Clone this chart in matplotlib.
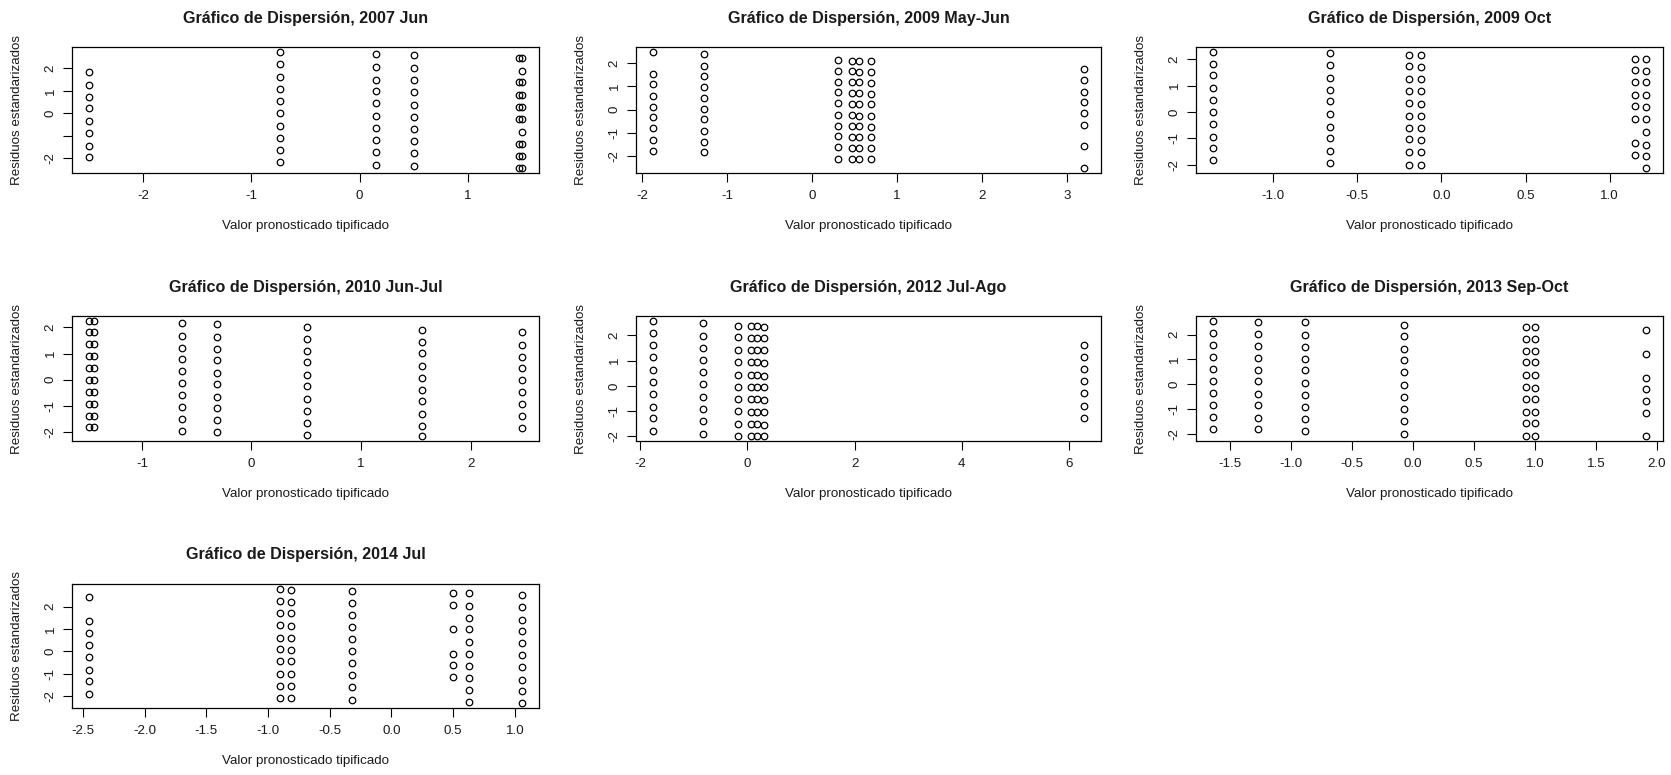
import matplotlib
matplotlib.use("Agg")
import matplotlib.pyplot as plt

plt.rcParams['font.family'] = ['Liberation Sans', 'DejaVu Sans']
plt.rcParams['axes.unicode_minus'] = False

# ---------------- data ----------------
titles = ["Gráfico de Dispersión, 2007 Jun",
          "Gráfico de Dispersión, 2009 May-Jun",
          "Gráfico de Dispersión, 2009 Oct",
          "Gráfico de Dispersión, 2010 Jun-Jul",
          "Gráfico de Dispersión, 2012 Jul-Ago",
          "Gráfico de Dispersión, 2013 Sep-Oct",
          "Gráfico de Dispersión, 2014 Jul"]

x_label = "Valor pronosticado tipificado"
y_label = "Residuos estandarizados"

# 2007 Jun
jun2007_x = [-2.50, -0.74, 0.15, 0.50, 1.475, 1.50]
jun2007_y = [
    [1.83, 1.28, 0.72, 0.23, -0.32, -0.89, -1.43, -1.94],
    [2.74, 2.18, 1.62, 1.10, 0.57, 0.00, -0.56, -1.10, -1.62, -2.18],
    [2.63, 2.06, 1.50, 1.01, 0.45, -0.12, -0.66, -1.17, -1.73, -2.29],
    [2.57, 2.00, 1.49, 0.95, 0.39, -0.17, -0.68, -1.22, -1.77, -2.33],
    [2.45, 1.38, 0.81, 0.27, -0.27, -1.34, -1.89, -2.44],
    [2.45, 1.89, 1.38, 0.81, 0.27, -0.27, -0.84, -1.34, -1.89, -2.44],
]

# 2009 May-Jun
mayjun2009_x = [-1.87, -1.275, 0.30, 0.47, 0.55, 0.70, 3.20]
mayjun2009_y = [
    [2.48, 1.52, 1.09, 0.58, 0.10, -0.32, -0.81, -1.29, -1.77],
    [2.38, 1.87, 1.43, 0.96, 0.48, 0.03, -0.42, -0.90, -1.39, -1.84],
    [2.14, 1.67, 1.19, 0.75, 0.28, -0.22, -0.70, -1.14, -1.62, -2.10],
    [2.10, 1.67, 1.19, 0.71, 0.25, -0.22, -0.70, -1.19, -1.65, -2.10],
    [2.10, 1.61, 1.19, 0.71, 0.22, -0.28, -0.72, -1.19, -1.65, -2.10],
    [2.10, 1.62, 1.13, 0.67, 0.22, -0.29, -0.75, -1.19, -1.65, -2.14],
    [1.72, 1.25, 0.77, 0.32, -0.16, -0.65, -1.57, -2.52],
]

# 2009 Oct
oct2009_x = [-1.356, -0.663, -0.193, -0.119, 1.148, 1.214]
oct2009_y = [
    [2.28, 1.83, 1.38, 0.91, 0.45, 0.00, -0.46, -0.94, -1.36, -1.83],
    [2.22, 1.77, 1.29, 0.83, 0.40, -0.09, -0.56, -0.97, -1.46, -1.94],
    [2.15, 1.73, 1.26, 0.79, 0.33, -0.14, -0.60, -1.04, -1.51, -1.99],
    [2.15, 1.69, 1.24, 0.78, 0.31, -0.14, -0.60, -1.06, -1.51, -1.99],
    [2.00, 1.59, 1.12, 0.63, 0.21, -0.27, -1.18, -1.64],
    [2.00, 1.55, 1.12, 0.63, 0.17, -0.27, -0.76, -1.23, -1.67, -2.13],
]

# 2010 Jun-Jul
junjul2010_x = [-1.48, -1.44, -0.638, -0.319, 0.511, 1.554, 2.466]
junjul2010_y = [
    [2.26, 1.83, 1.36, 0.91, 0.44, 0.00, -0.49, -0.94, -1.39, -1.83],
    [2.26, 1.83, 1.36, 0.91, 0.44, 0.00, -0.49, -0.94, -1.39, -1.83],
    [2.17, 1.69, 1.23, 0.81, 0.34, -0.12, -0.58, -1.03, -1.49, -1.95],
    [2.12, 1.65, 1.18, 0.75, 0.27, -0.17, -0.65, -1.08, -1.56, -1.99],
    [2.01, 1.56, 1.10, 0.66, 0.19, -0.26, -0.73, -1.18, -1.65, -2.10],
    [1.91, 1.44, 1.01, 0.53, 0.08, -0.40, -0.83, -1.31, -1.77, -2.17],
    [1.82, 1.32, 0.88, 0.43, 0.00, -0.48, -0.94, -1.40, -1.84],
]

# 2012 Jul-Ago
julago2012_x = [-1.76, -0.83, -0.18, 0.06, 0.18, 0.30, 6.28]
julago2012_y = [
    [2.58, 2.08, 1.62, 1.13, 0.64, 0.15, -0.32, -0.82, -1.29, -1.80],
    [2.47, 1.97, 1.49, 1.03, 0.55, 0.07, -0.43, -0.90, -1.41, -1.91],
    [2.38, 1.92, 1.42, 0.94, 0.43, -0.03, -0.51, -1.01, -1.50, -1.97],
    [2.38, 1.89, 1.41, 0.93, 0.43, -0.05, -0.54, -1.02, -1.50, -1.99],
    [2.38, 1.89, 1.41, 0.93, 0.43, -0.05, -0.54, -1.02, -1.50, -1.99],
    [2.34, 1.89, 1.40, 0.90, 0.39, -0.05, -0.55, -1.05, -1.56, -2.00],
    [1.61, 1.13, 0.67, 0.20, -0.30, -0.81, -1.26],
]

# 2013 Sep-Oct
sepoct2013_x = [-1.638, -1.27, -0.888, -0.076, 0.923, 1.00, 1.907]
sepoct2013_y = [
    [2.56, 2.07, 1.59, 1.11, 0.62, 0.12, -0.37, -0.86, -1.32, -1.82],
    [2.49, 2.03, 1.53, 1.07, 0.58, 0.11, -0.41, -0.86, -1.36, -1.82],
    [2.49, 1.99, 1.51, 1.01, 0.55, 0.05, -0.45, -0.93, -1.41, -1.88],
    [2.40, 1.92, 1.42, 0.96, 0.47, -0.05, -0.52, -1.00, -1.49, -2.00],
    [2.29, 1.82, 1.33, 0.88, 0.37, -0.11, -0.60, -1.11, -1.59, -2.08],
    [2.29, 1.82, 1.33, 0.88, 0.37, -0.15, -0.60, -1.14, -1.59, -2.08],
    [2.18, 1.22, 0.26, -0.19, -0.70, -1.15, -2.11],
]

# 2014 Jul
jul2014_x = [-2.45, -0.903, -0.811, -0.317, 0.496, 0.626, 1.056]
jul2014_y = [
    [2.43, 1.37, 0.84, 0.28, -0.27, -0.82, -1.34, -1.90],
    [2.81, 2.25, 1.73, 1.16, 0.60, 0.10, -0.45, -1.00, -1.54, -2.10],
    [2.76, 2.22, 1.72, 1.15, 0.60, 0.07, -0.45, -1.00, -1.55, -2.10],
    [2.72, 2.16, 1.64, 1.09, 0.55, 0.01, -0.54, -1.06, -1.60, -2.18],
    [2.60, 2.09, 0.99, -0.12, -0.61, -1.15],
    [2.60, 2.03, 1.49, 0.99, 0.43, -0.12, -0.66, -1.19, -1.73, -2.28],
    [2.54, 1.99, 1.42, 0.93, 0.37, -0.18, -0.72, -1.27, -1.78, -2.33],
]

panel_x = [jun2007_x, mayjun2009_x, oct2009_x, junjul2010_x,
           julago2012_x, sepoct2013_x, jul2014_x]
panel_y = [jun2007_y, mayjun2009_y, oct2009_y, junjul2010_y,
           julago2012_y, sepoct2013_y, jul2014_y]

x_ticks = [[-2, -1, 0, 1],
           [-2, -1, 0, 1, 2, 3],
           [-1.0, -0.5, 0.0, 0.5, 1.0],
           [-1, 0, 1, 2],
           [-2, 0, 2, 4, 6],
           [-1.5, -1.0, -0.5, 0.0, 0.5, 1.0, 1.5, 2.0],
           [-2.5, -2.0, -1.5, -1.0, -0.5, 0.0, 0.5, 1.0]]
x_ticklabels = [["-2", "-1", "0", "1"],
                ["-2", "-1", "0", "1", "2", "3"],
                ["-1.0", "-0.5", "0.0", "0.5", "1.0"],
                ["-1", "0", "1", "2"],
                ["-2", "0", "2", "4", "6"],
                ["-1.5", "-1.0", "-0.5", "0.0", "0.5", "1.0", "1.5", "2.0"],
                ["-2.5", "-2.0", "-1.5", "-1.0", "-0.5", "0.0", "0.5", "1.0"]]
y_ticks = [-2, -1, 0, 1, 2]
y_ticklabels = [["-2", "", "0", "1", "2"]] + [["-2", "-1", "0", "1", "2"]] * 6

# ---------------- layout ----------------
W, H = 1671, 775
fig = plt.figure(figsize=(W / 100, H / 100), dpi=100)
fig.patch.set_facecolor("white")

cols = [(72, 539), (636, 1101), (1196, 1663)]
rows = [(47, 173), (316, 441), (584, 708)]

txt = "#1a1a1a"
for i in range(7):
    r, c = divmod(i, 3)
    l, rr = cols[c]
    t, b = rows[r]
    wpx, hpx = rr - l, b - t
    ax = fig.add_axes([l / W, 1 - b / H, wpx / W, hpx / H])
    for xv, ys in zip(panel_x[i], panel_y[i]):
        ax.plot([xv] * len(ys), ys, linestyle="none", marker="o",
                markersize=4.7, markerfacecolor="none",
                markeredgecolor="black", markeredgewidth=0.9)
    ax.margins(x=0.04, y=0.04)
    ax.set_xticks(x_ticks[i])
    ax.set_xticklabels(x_ticklabels[i])
    ax.set_yticks(y_ticks)
    ax.set_yticklabels(y_ticklabels[i], rotation=90, va="center")
    ax.tick_params(axis="both", direction="out", length=6.5, width=0.8,
                   labelsize=9.6, colors="black", labelcolor=txt)
    ax.tick_params(axis="x", pad=5.5)
    ax.tick_params(axis="y", pad=4.5)
    for sp in ax.spines.values():
        sp.set_linewidth(0.9)
        sp.set_color("black")
    ax.set_xlabel(x_label, fontsize=9.6, color=txt)
    ax.set_ylabel(y_label, fontsize=9.6, color=txt)
    ax.xaxis.set_label_coords(0.5, -47 / hpx)
    ax.yaxis.set_label_coords(-49 / wpx, 0.5)
    ax.text(0.5, 1 + 29 / hpx, titles[i], transform=ax.transAxes,
            ha="center", va="center", fontsize=11.6, fontweight="bold",
            color=txt)

fig.savefig("out.png", dpi=100)
